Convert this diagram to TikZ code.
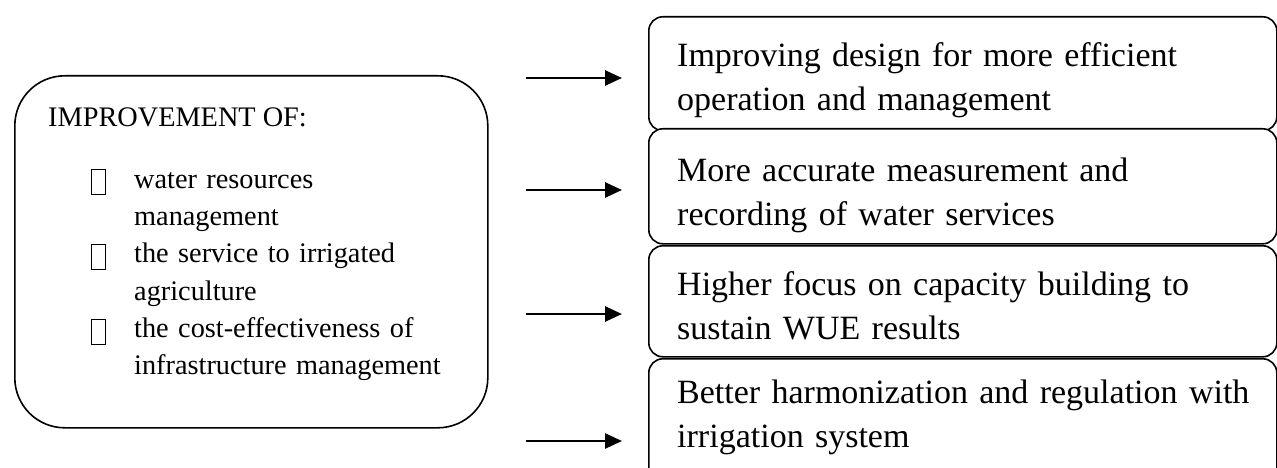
\documentclass[tikz,border=0pt]{standalone}
\usepackage{fontspec}
\setmainfont{Liberation Serif}
\usetikzlibrary{arrows.meta}

\tikzset{
  mainbox/.style={draw, line width=1.6pt, rounded corners=50pt, anchor=north west, inner sep=0pt},
  itembox/.style={draw, line width=1.6pt, rounded corners=14pt, fill=white, anchor=north west, inner sep=0pt, minimum width=628pt},
  itemtext/.style={anchor=base west, inner sep=0pt, text width=600pt, align=left,
    font=\fontsize{34}{44}\selectfont},
  listtext/.style={anchor=base west, inner sep=0pt, text width=340pt, align=left,
    font=\fontsize{28.3}{37.4}\selectfont},
  bulletbox/.style={draw, line width=1.1pt, anchor=north west, inner sep=0pt, minimum width=14pt, minimum height=25pt},
  arr/.style={line width=2.6pt, -{Triangle[length=17pt, width=15pt]}, shorten >=26pt}
}

\begin{document}
\begin{tikzpicture}[x=1pt, y=-1pt]
  \useasboundingbox (0,0) rectangle (1277,468);

  % left summary box
  \node[mainbox, minimum width=473pt, minimum height=352pt] (left) at (14,75) {};
  \node[anchor=base west, inner sep=0pt, font=\fontsize{28.3}{37.4}\selectfont] (head) at (48,127) {IMPROVEMENT OF:};
  \node[listtext] (list) at (134,188) {water resources\\ management\\ the service to irrigated\\ agriculture\\ the cost-effectiveness of\\ infrastructure management};
  \node[bulletbox] (b1) at (91,169) {};
  \node[bulletbox] (b2) at (91,243.8) {};
  \node[bulletbox] (b3) at (91,318.6) {};

  % measures on the right
  \node[itembox, minimum height=114pt] (m1) at (648,16) {};
  \node[itembox, minimum height=115pt] (m2) at (648,128) {};
  \node[itembox, minimum height=111pt] (m3) at (648,245) {};
  \node[itembox, minimum height=140pt] (m4) at (648,358) {};

  \node[itemtext] (t1) at (677,67) {Improving design for more efficient\\ operation and management};
  \node[itemtext] (t2) at (677,181) {More accurate measurement and\\ recording of water services};
  \node[itemtext] (t3) at (677,295) {Higher focus on capacity building to\\ sustain WUE results};
  \node[itemtext] (t4) at (677,403) {Better harmonization and regulation with\\ irrigation system};

  % arrows
  \coordinate (s1) at (526,78);
  \coordinate (s2) at (526,190);
  \coordinate (s3) at (526,314);
  \coordinate (s4) at (526,441);
  \draw[arr] (s1) -- (s1 -| m1.west);
  \draw[arr] (s2) -- (s2 -| m2.west);
  \draw[arr] (s3) -- (s3 -| m3.west);
  \draw[arr] (s4) -- (s4 -| m4.west);
\end{tikzpicture}
\end{document}
